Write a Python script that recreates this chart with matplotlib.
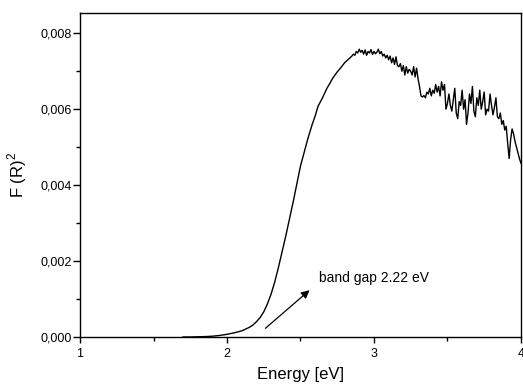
import matplotlib
matplotlib.use('Agg')
import matplotlib.pyplot as plt
from matplotlib.ticker import FuncFormatter, MultipleLocator

plt.rcParams['font.family'] = ['Liberation Sans', 'DejaVu Sans']
plt.rcParams['mathtext.fontset'] = 'custom'
plt.rcParams['mathtext.rm'] = 'Liberation Sans'

# smooth absorption edge
energy_edge = [1.70, 1.75, 1.80, 1.85, 1.90, 1.95, 2.00, 2.05, 2.10, 2.15,
               2.175, 2.20, 2.225, 2.25, 2.275, 2.30, 2.325, 2.35, 2.40,
               2.45, 2.50, 2.55, 2.58, 2.60, 2.62, 2.65, 2.68, 2.70, 2.72,
               2.75, 2.78, 2.80, 2.83]
f_edge = [0.0, 0.0, 0.000005, 0.00001, 0.00002, 0.00004, 0.00007, 0.00011,
          0.00016, 0.00025, 0.00031, 0.00040, 0.00051, 0.00066, 0.00087,
          0.00113, 0.00145, 0.00183, 0.00266, 0.00355, 0.00450, 0.00522,
          0.00560, 0.00582, 0.00608, 0.00630, 0.00655, 0.00668, 0.00682,
          0.00698, 0.00712, 0.00722, 0.00733]

# noisy part, 2.85 .. 4.00 eV in 0.01 steps
energy_noisy = [round(2.85 + 0.01 * i, 2) for i in range(116)]
f_noisy = [
    0.00740, 0.00745, 0.00742, 0.00752, 0.00748, 0.00758, 0.00750, 0.00755,
    0.00745, 0.00756, 0.00742, 0.00752, 0.00748, 0.00757, 0.00744, 0.00752,
    0.00746, 0.00750, 0.00758, 0.00746, 0.00752, 0.00740, 0.00745, 0.00735,
    0.00742, 0.00730, 0.00740, 0.00722, 0.00735, 0.00718, 0.00738, 0.00715,
    0.00712, 0.00720, 0.00700, 0.00715, 0.00690, 0.00712, 0.00695, 0.00705,
    0.00700, 0.00690, 0.00712, 0.00685, 0.00708, 0.00680, 0.00660, 0.00635,
    0.00632, 0.00636, 0.00630, 0.00645, 0.00640, 0.00655, 0.00635, 0.00650,
    0.00642, 0.00665, 0.00645, 0.00660, 0.00635, 0.00672, 0.00650, 0.00665,
    0.00600, 0.00615, 0.00640, 0.00610, 0.00595, 0.00625, 0.00655, 0.00590,
    0.00575, 0.00620, 0.00610, 0.00650, 0.00600, 0.00625, 0.00560, 0.00590,
    0.00640, 0.00615, 0.00660, 0.00595, 0.00580, 0.00630, 0.00610, 0.00650,
    0.00600, 0.00620, 0.00645, 0.00585, 0.00600, 0.00595, 0.00640, 0.00610,
    0.00585, 0.00605, 0.00630, 0.00580, 0.00575, 0.00590, 0.00560, 0.00570,
    0.00545, 0.00555, 0.00510, 0.00470, 0.00520, 0.00548, 0.00535, 0.00515,
    0.00500, 0.00485, 0.00470, 0.00458,
]

energy = energy_edge + energy_noisy
f_r2 = f_edge + f_noisy

x_ticks = [1, 2, 3, 4]
y_ticks = [0.000, 0.002, 0.004, 0.006, 0.008]

fig = plt.figure(figsize=(5.23, 3.86), dpi=100)
ax = fig.add_axes([0.153, 0.127, 0.843, 0.839])

ax.plot(energy, f_r2, color='black', lw=1.0)

ax.set_xlim(1, 4)
ax.set_ylim(0, 0.00853)
ax.set_xticks(x_ticks)
ax.set_yticks(y_ticks)
ax.xaxis.set_minor_locator(MultipleLocator(0.5))
ax.yaxis.set_minor_locator(MultipleLocator(0.001))
ax.yaxis.set_major_formatter(FuncFormatter(lambda v, p: ('%.3f' % v).replace('.', ',')))
ax.xaxis.set_major_formatter(FuncFormatter(lambda v, p: '%d' % v))

ax.tick_params(axis='both', which='major', labelsize=9, direction='out', length=5, width=1)
ax.tick_params(axis='y', which='major', pad=1)
ax.tick_params(axis='x', which='major', pad=4, length=4)
ax.tick_params(axis='both', which='minor', direction='out', length=3, width=1)
for s in ax.spines.values():
    s.set_linewidth(1.0)

ax.set_xlabel('Energy [eV]', fontsize=12, labelpad=5)
ax.set_ylabel('F (R)$^2$', fontsize=12, labelpad=8)

ax.annotate('', xy=(2.576, 0.00128), xytext=(2.247, 0.00018),
            arrowprops=dict(arrowstyle='-|>', color='black', lw=0.9,
                            mutation_scale=12))
ax.text(2.628, 0.00155, 'band gap 2.22 eV', fontsize=10, va='center', ha='left')

fig.savefig('out.png', dpi=100)
